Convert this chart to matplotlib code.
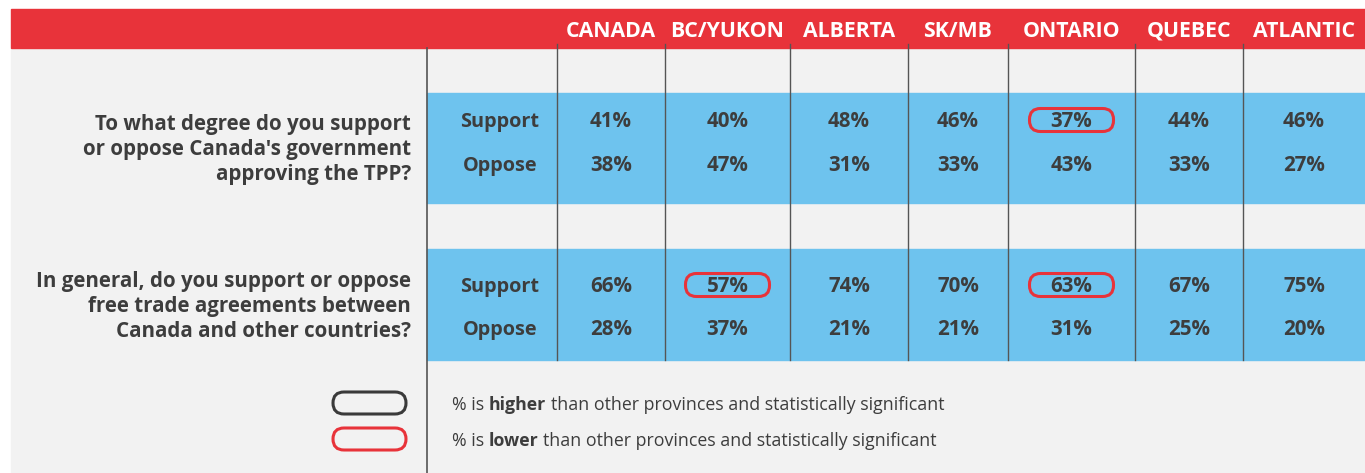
import matplotlib.pyplot as plt
from matplotlib.patches import Rectangle, FancyBboxPatch

plt.rcParams['font.family'] = ['Open Sans', 'DejaVu Sans']

regions = ["CANADA", "BC/YUKON", "ALBERTA", "SK/MB", "ONTARIO", "QUEBEC", "ATLANTIC"]
questions = [
    "To what degree do you support\nor oppose Canada's government\napproving the TPP?",
    "In general, do you support or oppose\nfree trade agreements between\nCanada and other countries?",
]
answers = ["Support", "Oppose"]
tpp_support = [41, 40, 48, 46, 37, 44, 46]
tpp_oppose = [38, 47, 31, 33, 43, 33, 27]
fta_support = [66, 57, 74, 70, 63, 67, 75]
fta_oppose = [28, 37, 21, 21, 31, 25, 20]
# significantly lower (red outline): (question, answer, region)
lower_flags = [(0, 0, "ONTARIO"), (1, 0, "BC/YUKON"), (1, 0, "ONTARIO")]
legend_items = [("higher", "#3a3a3a"), ("lower", "#e8333a")]

values = [[tpp_support, tpp_oppose], [fta_support, fta_oppose]]

RED = "#e8333a"
BLUE = "#6ec3ee"
GRAY = "#f2f2f2"
TXT = "#3d3d3d"

W, H = 1365, 473
fig = plt.figure(figsize=(W / 100, H / 100), dpi=100)
ax = fig.add_axes([0, 0, 1, 1])
ax.set_xlim(0, W)
ax.set_ylim(H, 0)
ax.axis("off")

# layout
col_edges = [427, 557, 665, 790, 908, 1008, 1135, 1243, 1365]
col_centers = [(a + b) / 2 for a, b in zip(col_edges[1:-1], col_edges[2:])]
label_x = 500
bands = [(93, 203), (249, 360)]
row_y = [(120, 164), (285, 328)]
q_y = [148, 305]
dy = 1.5  # text baseline nudge

ax.add_patch(Rectangle((11, 48), W - 11, H - 48, color=GRAY, zorder=0))
ax.add_patch(Rectangle((11, 9), W - 11, 39, color=RED, zorder=1))
for top, bot in bands:
    ax.add_patch(Rectangle((427, top), W - 427, bot - top, color=BLUE, zorder=1))

ax.plot([427, 427], [48, H], color="#555555", lw=1.2, zorder=2)
for x in col_edges[1:-1]:
    ax.plot([x, x], [44, 360], color="#555555", lw=1.0, zorder=2)

for name, cx in zip(regions, col_centers):
    ax.text(cx, 37, name, color="white", fontsize=15.3, fontweight="bold",
            ha="center", va="baseline", zorder=3)

for qi, q in enumerate(questions):
    ax.text(411, q_y[qi] + dy, q, color=TXT, fontsize=14.8, fontweight="bold",
            ha="right", va="center", linespacing=1.25, zorder=3)
    for ai, ans in enumerate(answers):
        y = row_y[qi][ai]
        ax.text(label_x, y + dy, ans, color=TXT, fontsize=14.3, fontweight="bold",
                ha="center", va="center", zorder=3)
        for ri, cx in enumerate(col_centers):
            ax.text(cx, y + dy, f"{values[qi][ai][ri]}%", color=TXT, fontsize=14.8,
                    fontweight="bold", ha="center", va="center", zorder=3)

for qi, ai, reg in lower_flags:
    cx = col_centers[regions.index(reg)]
    y = row_y[qi][ai]
    ax.add_patch(FancyBboxPatch((cx - 42 + 11, y - 11.5 + 11), 84 - 22, 23 - 22,
                                boxstyle="round,pad=11", fc="none", ec=RED,
                                lw=2.2, zorder=4))

# legend
leg_y = [403, 439]
fs = 12.8
fig.canvas.draw()
renderer = fig.canvas.get_renderer()
inv = ax.transData.inverted()
for (word, col), y in zip(legend_items, leg_y):
    ax.add_patch(FancyBboxPatch((333 + 11, y - 11 + 11), 73 - 22, 22 - 22,
                                boxstyle="round,pad=11", fc="none", ec=col,
                                lw=2.2, zorder=4))
    x = 452
    for part, weight in [("% is", "normal"), (word, "bold"),
                         ("than other provinces and statistically significant", "normal")]:
        t = ax.text(x, y + dy, part, color=TXT, fontsize=fs, fontweight=weight,
                    ha="left", va="center", zorder=3)
        bb = t.get_window_extent(renderer)
        x = inv.transform((bb.x1, bb.y0))[0] + fs * 0.36

fig.savefig("out.png", dpi=100)
